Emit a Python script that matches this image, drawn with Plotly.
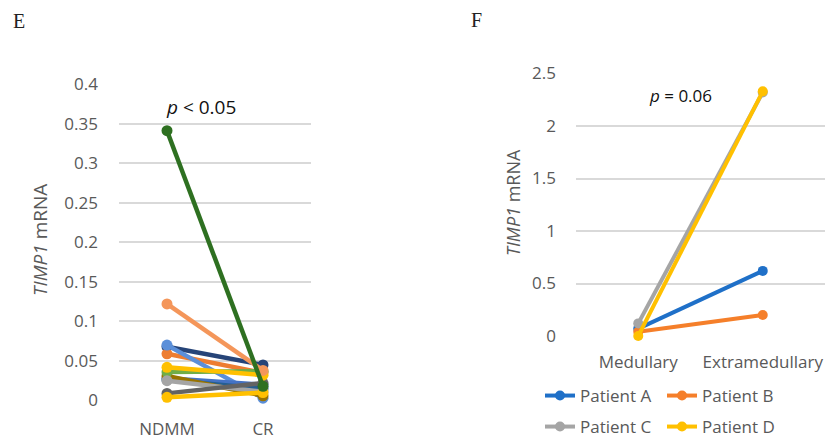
import plotly.graph_objects as go

# ---------- Data ----------
left_categories = ["NDMM", "CR"]
left_series_values = [
    [0.068, 0.045],
    [0.059, 0.035],
    [0.070, 0.003],
    [0.028, 0.020],
    [0.026, 0.015],
    [0.031, 0.006],
    [0.036, 0.037],
    [0.025, 0.011],
    [0.009, 0.022],
    [0.004, 0.010],
    [0.042, 0.032],
    [0.122, 0.038],
    [0.341, 0.018],
]
left_series_colors = [
    "#264478", "#ED7D31", "#5B8FD9", "#4472C4", "#255E91", "#997300",
    "#70AD47", "#A5A5A5", "#636363", "#FFC000", "#FFC000", "#F4965A", "#2E7021",
]
left_y_ticks = [0, 0.05, 0.1, 0.15, 0.2, 0.25, 0.3, 0.35, 0.4]

right_categories = ["Medullary", "Extramedullary"]
patients = ["Patient A", "Patient B", "Patient C", "Patient D"]
patient_values = [
    [0.07, 0.62],
    [0.04, 0.20],
    [0.12, 2.32],
    [0.00, 2.33],
]
patient_colors = ["#1F70C8", "#F57F2A", "#A5A5A5", "#FFC000"]
right_y_ticks = [0, 0.5, 1, 1.5, 2, 2.5]

W, H = 825, 438
FONT = "Open Sans"
TICK_COLOR = "#595959"
GRID = "#D9D9D9"

fig = go.Figure()

for vals, col in zip(left_series_values, left_series_colors):
    fig.add_trace(go.Scatter(
        x=left_categories, y=vals, mode="lines+markers",
        line=dict(color=col, width=4.5), marker=dict(color=col, size=11),
        xaxis="x", yaxis="y", showlegend=False, cliponaxis=False,
    ))

for i, (name, vals, col) in enumerate(zip(patients, patient_values, patient_colors)):
    fig.add_trace(go.Scatter(
        x=right_categories, y=vals, mode="lines+markers", name=name,
        line=dict(color=col, width=4), marker=dict(color=col, size=10),
        xaxis="x2", yaxis="y2", cliponaxis=False,
        legend="legend" if i < 2 else "legend2",
    ))

def py(p):
    return (H - p) / H

def px(p):
    return p / W

axis_common = dict(showline=False, zeroline=False, ticks="", automargin=False,
                   tickfont=dict(family=FONT, size=17, color=TICK_COLOR))

fig.update_layout(
    width=W, height=H, margin=dict(l=0, r=0, t=0, b=0, autoexpand=False),
    paper_bgcolor="white", plot_bgcolor="white",
    xaxis=dict(domain=[px(119), px(311)], range=[-0.5, 1.5], type="category",
               showgrid=False, anchor="y", ticklabelstandoff=16, **axis_common),
    yaxis=dict(domain=[py(400.5), py(84)], range=[0, 0.4], tickvals=left_y_ticks,
               showgrid=True, gridcolor=GRID, gridwidth=1.5, anchor="x",
               ticklabelstandoff=20, **axis_common),
    xaxis2=dict(domain=[px(576), 1.0], range=[-0.5, 1.5], type="category",
                showgrid=False, anchor="y2", ticklabelstandoff=14, **axis_common),
    yaxis2=dict(domain=[py(336), py(73.5)], range=[0, 2.5], tickvals=right_y_ticks,
                showgrid=True, gridcolor=GRID, gridwidth=1.5, anchor="x2",
                ticklabelstandoff=19, **axis_common),
    legend=dict(orientation="h", x=px(540), y=py(396), xanchor="left", yanchor="middle",
                entrywidthmode="pixels", entrywidth=77,
                font=dict(family=FONT, size=17, color=TICK_COLOR), bgcolor="rgba(0,0,0,0)"),
    legend2=dict(orientation="h", x=px(540), y=py(427), xanchor="left", yanchor="middle",
                 entrywidthmode="pixels", entrywidth=77,
                 font=dict(family=FONT, size=17, color=TICK_COLOR), bgcolor="rgba(0,0,0,0)"),
    showlegend=True,
)

annotations = [
    dict(text="E", x=px(19), y=py(21), font=dict(family="Liberation Serif", size=20, color="#222")),
    dict(text="F", x=px(476), y=py(20), font=dict(family="Liberation Serif", size=20, color="#222")),
    dict(text="<i>TIMP1</i> mRNA", x=px(40), y=py(240), textangle=-90,
         font=dict(family=FONT, size=19, color=TICK_COLOR)),
    dict(text="<i>TIMP1</i> mRNA", x=px(513), y=py(203), textangle=-90,
         font=dict(family=FONT, size=18, color=TICK_COLOR)),
    dict(text="<i>p</i> < 0.05", x=px(201), y=py(107),
         font=dict(family=FONT, size=19, color="#111")),
    dict(text="<i>p</i> = 0.06", x=px(680), y=py(95),
         font=dict(family=FONT, size=17, color="#111")),
]
for a in annotations:
    a.update(xref="paper", yref="paper", showarrow=False, xanchor="center", yanchor="middle")
fig.update_layout(annotations=annotations)

fig.write_html("out.html")
